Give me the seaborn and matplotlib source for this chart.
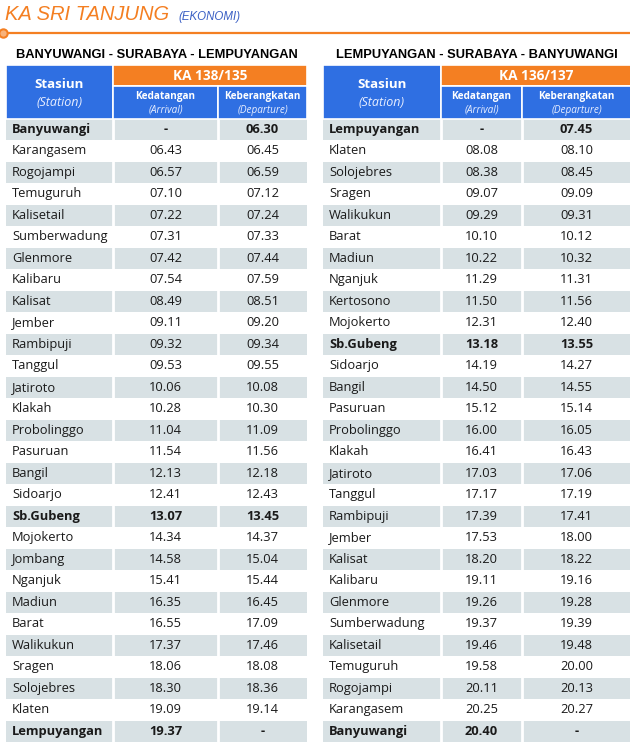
"""
Jadwal KA Sri Tanjung (Ekonomi) — dua tabel: Banyuwangi → Lempuyangan dan sebaliknya.
"""

import numpy as np
import pandas as pd
import matplotlib
matplotlib.use("Agg")
import matplotlib.pyplot as plt
from matplotlib.colors import ListedColormap
from matplotlib.patches import Rectangle
import seaborn as sns

# ------------------------------------------------------------------ #
# data
# ------------------------------------------------------------------ #
TITLE = "KA SRI TANJUNG"
SUBTITLE = "(EKONOMI)"

route_a = "BANYUWANGI - SURABAYA - LEMPUYANGAN"
train_a = "KA 138/135"
stations_a = ["Banyuwangi", "Karangasem", "Rogojampi", "Temuguruh", "Kalisetail",
              "Sumberwadung", "Glenmore", "Kalibaru", "Kalisat", "Jember",
              "Rambipuji", "Tanggul", "Jatiroto", "Klakah", "Probolinggo",
              "Pasuruan", "Bangil", "Sidoarjo", "Sb.Gubeng", "Mojokerto",
              "Jombang", "Nganjuk", "Madiun", "Barat", "Walikukun",
              "Sragen", "Solojebres", "Klaten", "Lempuyangan"]
arrive_a = ["-", "06.43", "06.57", "07.10", "07.22", "07.31", "07.42", "07.54",
            "08.49", "09.11", "09.32", "09.53", "10.06", "10.28", "11.04",
            "11.54", "12.13", "12.41", "13.07", "14.34", "14.58", "15.41",
            "16.35", "16.55", "17.37", "18.06", "18.30", "19.09", "19.37"]
depart_a = ["06.30", "06.45", "06.59", "07.12", "07.24", "07.33", "07.44", "07.59",
            "08.51", "09.20", "09.34", "09.55", "10.08", "10.30", "11.09",
            "11.56", "12.18", "12.43", "13.45", "14.37", "15.04", "15.44",
            "16.45", "17.09", "17.46", "18.08", "18.36", "19.14", "-"]

route_b = "LEMPUYANGAN - SURABAYA - BANYUWANGI"
train_b = "KA 136/137"
stations_b = ["Lempuyangan", "Klaten", "Solojebres", "Sragen", "Walikukun",
              "Barat", "Madiun", "Nganjuk", "Kertosono", "Mojokerto",
              "Sb.Gubeng", "Sidoarjo", "Bangil", "Pasuruan", "Probolinggo",
              "Klakah", "Jatiroto", "Tanggul", "Rambipuji", "Jember",
              "Kalisat", "Kalibaru", "Glenmore", "Sumberwadung", "Kalisetail",
              "Temuguruh", "Rogojampi", "Karangasem", "Banyuwangi"]
arrive_b = ["-", "08.08", "08.38", "09.07", "09.29", "10.10", "10.22", "11.29",
            "11.50", "12.31", "13.18", "14.19", "14.50", "15.12", "16.00",
            "16.41", "17.03", "17.17", "17.39", "17.53", "18.20", "19.11",
            "19.26", "19.37", "19.46", "19.58", "20.11", "20.25", "20.40"]
depart_b = ["07.45", "08.10", "08.45", "09.09", "09.31", "10.12", "10.32", "11.31",
            "11.56", "12.40", "13.55", "14.27", "14.55", "15.14", "16.05",
            "16.43", "17.06", "17.19", "17.41", "18.00", "18.22", "19.16",
            "19.28", "19.39", "19.48", "20.00", "20.13", "20.27", "-"]

bold_stations = ["Banyuwangi", "Lempuyangan", "Sb.Gubeng"]

# ------------------------------------------------------------------ #
# gaya
# ------------------------------------------------------------------ #
W, H = 630, 750
ORANGE = "#F47F22"
BLUE = "#2F6FE2"
GREY = "#D8E1E4"
TXT = "#1A1A1A"
BODY_FONT = ["Open Sans", "DejaVu Sans"]
HEAD_FONT = ["Liberation Sans", "DejaVu Sans"]

HDR_TOP, ORANGE_BOT, HDR_BOT, BODY_BOT = 65, 86, 118.5, 742

sns.set_theme(style="white")
plt.rcParams["font.family"] = BODY_FONT


def draw_table(fig, x0, x1, xb1, xb2, route, train, stations, arrive, depart):
    n = len(stations)
    rh = (BODY_BOT - HDR_BOT) / n

    def ry(py):  # piksel → koordinat baris
        return (py - HDR_BOT) / rh

    def cx(px):  # piksel → fraksi lebar tabel
        return (px - x0) / (x1 - x0)

    ax = fig.add_axes([x0 / W, 1 - BODY_BOT / H, (x1 - x0) / W, (BODY_BOT - HDR_TOP) / H])
    stripes = pd.DataFrame({"s": [i % 2 for i in range(n)]})
    sns.heatmap(stripes, cmap=ListedColormap([GREY, "white"]), vmin=0, vmax=1,
                cbar=False, xticklabels=False, yticklabels=False, ax=ax)
    ax.set_ylim(n, ry(HDR_TOP))
    ax.set_xlim(0, 1)

    b1, b2 = cx(xb1), cx(xb2)
    top, mid = ry(HDR_TOP), ry(ORANGE_BOT)
    for (xa, xb, ya, yb, c) in [(0, b1, top, 0, BLUE), (b1, 1, top, mid, ORANGE),
                                (b1, b2, mid, 0, BLUE), (b2, 1, mid, 0, BLUE)]:
        ax.add_patch(Rectangle((xa, ya), xb - xa, yb - ya, facecolor=c,
                               edgecolor="white", linewidth=1.2, zorder=3))
    ax.vlines([b1, b2], 0, n, color="white", linewidth=2, zorder=3)

    # header
    ax.text(b1 / 2, ry(84), "Stasiun", color="white", fontsize=9.6, fontweight="bold",
            ha="center", va="center", zorder=4)
    ax.text(b1 / 2, ry(102.5), "(Station)", color="#E8EEFF", fontsize=9, style="italic",
            ha="center", va="center", zorder=4)
    ax.text((b1 + 1) / 2, ry(75.5), train, color="white", fontsize=9.8,
            fontweight="bold", ha="center", va="center", zorder=4)
    for xc, lab, sub in [((b1 + b2) / 2, "Kedatangan", "(Arrival)"),
                         ((b2 + 1) / 2, "Keberangkatan", "(Departure)")]:
        ax.text(xc, ry(96.5), lab, color="white", fontsize=7.2, fontweight="bold",
                ha="center", va="center", zorder=4)
        ax.text(xc, ry(110.5), sub, color="#E8EEFF", fontsize=7.2, style="italic",
                ha="center", va="center", zorder=4)

    # isi
    for i, (st, a, d) in enumerate(zip(stations, arrive, depart)):
        fw = "bold" if st in bold_stations else "normal"
        y = i + 0.5
        ax.text(cx(x0 + 6), y, st, color=TXT, fontsize=9.3, fontweight=fw,
                ha="left", va="center")
        ax.text((b1 + b2) / 2, y, a, color=TXT, fontsize=9.3, fontweight=fw,
                ha="center", va="center")
        ax.text((b2 + 1) / 2, y, d, color=TXT, fontsize=9.3, fontweight=fw,
                ha="center", va="center")

    fig.text((x0 + x1) / 2 / W, 1 - 55 / H, route, family=HEAD_FONT, fontsize=9.25,
             fontweight="bold", color="black", ha="center", va="center")
    return ax


fig = plt.figure(figsize=(W / 100, H / 100), dpi=100)

# judul + garis oranye
fig.text(5 / W, 1 - 15 / H, TITLE, family=HEAD_FONT, fontsize=14.5, style="italic",
         color=ORANGE, ha="left", va="center")
fig.text(178 / W, 1 - 17 / H, SUBTITLE, family=HEAD_FONT, fontsize=8.3, style="italic",
         color="#3A5FC4", ha="left", va="center")
fig.add_artist(plt.Line2D([0, 1], [1 - 33 / H] * 2, color=ORANGE, linewidth=1.6))
fig.add_artist(plt.Line2D([2.5 / W], [1 - 33 / H], marker="o", markersize=6,
                          markerfacecolor="#F8B27A", markeredgecolor=ORANGE,
                          markeredgewidth=1.5))

draw_table(fig, 6, 307, 113, 218, route_a, train_a, stations_a, arrive_a, depart_a)
draw_table(fig, 323, 631, 441, 522, route_b, train_b, stations_b, arrive_b, depart_b)

fig.savefig("out.png", dpi=100)
print("Salvo: out.png")
